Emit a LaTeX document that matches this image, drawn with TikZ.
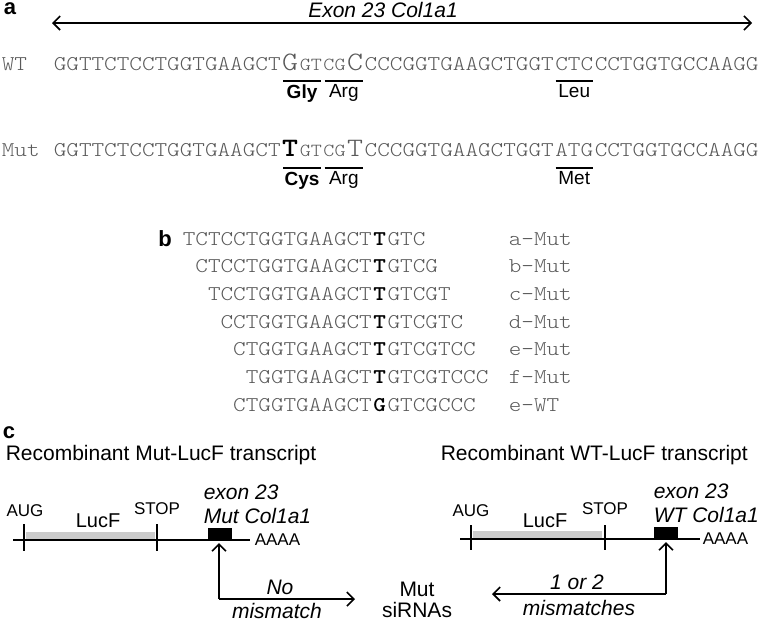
\documentclass[tikz,border=0pt]{standalone}
\usepackage{fontspec}
\setmainfont{Liberation Sans}
\setmonofont{lmmonolt10-regular.otf}[BoldFont=lmmonolt10-bold.otf,FakeStretch=1.143]
\usetikzlibrary{arrows.meta,positioning}

\definecolor{SeqGray}{gray}{0.35}
\definecolor{LucGray}{gray}{0.8}
\newcommand{\SeqFont}{\ttfamily\fontsize{10.5pt}{12pt}\selectfont}
\newcommand{\BigSeqFont}{\ttfamily\fontsize{13.3pt}{14pt}\selectfont}
\newcommand{\TinySeqFont}{\ttfamily\fontsize{9.2pt}{11pt}\selectfont}
\newcommand{\LabFont}{\fontsize{10.5pt}{12pt}\selectfont}

\begin{document}
\begin{tikzpicture}[x=0.5pt,y=-0.5pt,line width=0.8pt,
	>={Straight Barb[length=3.5pt,width=7pt]},
	SeqText/.style={anchor=base west,inner sep=0pt,text=SeqGray,font=\SeqFont},
	BigBase/.style={SeqText,font=\BigSeqFont},
	SmallBase/.style={SeqText,font=\TinySeqFont},
	CodonBar/.style={line width=0.9pt},
	CodonLabel/.style={below,inner sep=1.5pt,font=\fontsize{9.5pt}{11pt}\selectfont},
	PanelLabel/.style={inner sep=0pt,font=\fontsize{11pt}{12pt}\selectfont\bfseries},
	Mark/.style={inner sep=0pt,font=\fontsize{8.5pt}{10pt}\selectfont},
	ItText/.style={inner sep=0pt,font=\LabFont\itshape},
	ExonBox/.style={fill=black,inner sep=0pt,minimum width=12pt,minimum height=6.5pt},
]
\useasboundingbox (0,0) rectangle (758,622);

% panel a
\node[PanelLabel] (a) at (10,9) {a};
\coordinate (exL) at (52,23);
\coordinate (exR) at (752,23);
\draw[<->] (exL) -- (exR);
\node[ItText] (exon) at (383,10) {Exon 23 Col1a1};

\node[SeqText] (wtName) at (1,70) {WT};
\node[SeqText] (wtA) at (53,70) {GGTTCTCCTGGTGAAGCT};
\node[BigBase] (wtG) at (wtA.base east) {G};
\node[SmallBase] (wtGT) at (wtG.base east) {GT};
\node[SmallBase] (wtCG) at (wtGT.base east) {CG};
\node[BigBase] (wtC) at (wtCG.base east) {C};
\node[SeqText] (wtB) at (wtC.base east) {CCCGGTGAAGCTGGT};
\node[SeqText] (wtLeu) at (wtB.base east) {CTC};
\node[SeqText] (wtD) at (wtLeu.base east) {CCTGGTGCCAAGG};

\draw[CodonBar] ([shift={(2,11)}]wtG.base west) -- ([shift={(-2,11)}]wtGT.base east)
	node[CodonLabel,midway] (gly) {\bfseries Gly};
\draw[CodonBar] ([shift={(2,11)}]wtCG.base west) -- ([shift={(-1,11)}]wtC.base east)
	node[CodonLabel,midway] (argWT) {Arg};
\draw[CodonBar] ([shift={(1,11)}]wtLeu.base west) -- ([shift={(-1,11)}]wtLeu.base east)
	node[CodonLabel,midway] (leu) {Leu};

\node[SeqText] (mutName) at (1,156) {Mut};
\node[SeqText] (mutA) at (53,156) {GGTTCTCCTGGTGAAGCT};
\node[BigBase,font=\BigSeqFont\bfseries,text=black] (mutT) at (mutA.base east) {T};
\node[SmallBase] (mutGT) at (mutT.base east) {GT};
\node[SmallBase] (mutCG) at (mutGT.base east) {CG};
\node[BigBase] (mutT2) at (mutCG.base east) {T};
\node[SeqText] (mutB) at (mutT2.base east) {CCCGGTGAAGCTGGT};
\node[SeqText] (mutMet) at (mutB.base east) {ATG};
\node[SeqText] (mutD) at (mutMet.base east) {CCTGGTGCCAAGG};

\draw[CodonBar] ([shift={(2,12)}]mutT.base west) -- ([shift={(-2,12)}]mutGT.base east)
	node[CodonLabel,midway] (cys) {\bfseries Cys};
\draw[CodonBar] ([shift={(2,12)}]mutCG.base west) -- ([shift={(-1,12)}]mutT2.base east)
	node[CodonLabel,midway] (argMut) {Arg};
\draw[CodonBar] ([shift={(1,12)}]mutMet.base west) -- ([shift={(-1,12)}]mutMet.base east)
	node[CodonLabel,midway] (met) {Met};

% panel b
\node[PanelLabel] (b) at (165,239) {b};
\foreach \pre/\post/\lab [count=\i from 0] in {TCTCCTGGTGAAGCT/GTC/a-Mut,
	CTCCTGGTGAAGCT/GTCG/b-Mut, TCCTGGTGAAGCT/GTCGT/c-Mut,
	CCTGGTGAAGCT/GTCGTC/d-Mut, CTGGTGAAGCT/GTCGTCC/e-Mut,
	TGGTGAAGCT/GTCGTCCC/f-Mut}{
	\node[SeqText] (pre\i) at ({182+12.6*\i},{245+27.7*\i}) {\pre};
	\node[SeqText,font=\SeqFont\bfseries,text=black] (snp\i) at (pre\i.base east) {T};
	\node[SeqText] (post\i) at (snp\i.base east) {\post};
	\node[SeqText] (lab\i) at (508,{245+27.7*\i}) {\lab};
}
\node[SeqText] (preWT) at (232.4,411) {CTGGTGAAGCT};
\node[SeqText,font=\SeqFont\bfseries,text=black] (snpWT) at (preWT.base east) {G};
\node[SeqText] (postWT) at (snpWT.base east) {GTCGCCC};
\node[SeqText] (labWT) at (508,411) {e-WT};

% panel c
\node[PanelLabel] (c) at (9,433) {c};

% Mut-LucF transcript
\node[anchor=west,inner sep=0pt,font=\LabFont] (mTitle) at (5,455) {Recombinant Mut-LucF transcript};
\fill[LucGray] (26,532) rectangle (155,539);
\coordinate (mStart) at (13,540);
\coordinate (mEnd) at (250,540);
\draw (mStart) -- (mEnd);
\node[Mark,anchor=west] (mPolyA) at ([xshift=2pt]mEnd) {AAAA};
\draw (24,524) -- (24,551);
\draw (157,524) -- (157,551);
\node[Mark] (mAUG) at (25,511) {AUG};
\node[Mark] (mSTOP) at (157,509) {STOP};
\node[inner sep=0pt,font=\fontsize{10pt}{12pt}\selectfont] (mLuc) at (98,521) {LucF};
\node[ExonBox] (mBox) at (220,534.5) {};
\node[ItText,anchor=west] (mExon) at (203,492) {exon 23};
\node[ItText,anchor=west] (mCol) at (203,516) {Mut Col1a1};
\coordinate (mCorner) at (219,599);
\coordinate (mTip) at (219,543);
\coordinate (mOut) at (355,599);
\draw[->] (mCorner) -- (mTip);
\draw[->] (mCorner) -- (mOut);
\node[ItText] (mNo) at (280,587) {No};
\node[ItText] (mMis) at (277,611) {mismatch};

\node[align=center,inner sep=0pt,font=\fontsize{10.5pt}{10.5pt}\selectfont] (siRNA) at (417,600) {Mut\\siRNAs};

% WT-LucF transcript
\node[anchor=west,inner sep=0pt,font=\LabFont] (wTitle) at (440,455) {Recombinant WT-LucF transcript};
\fill[LucGray] (473,531) rectangle (602,538);
\coordinate (wStart) at (460,539);
\coordinate (wEnd) at (700,539);
\draw (wStart) -- (wEnd);
\node[Mark,anchor=west] (wPolyA) at ([xshift=1pt]wEnd) {AAAA};
\draw (471,525) -- (471,550);
\draw (605,525) -- (605,550);
\node[Mark] (wAUG) at (471,511) {AUG};
\node[Mark] (wSTOP) at (605,509) {STOP};
\node[inner sep=0pt,font=\fontsize{10pt}{12pt}\selectfont] (wLuc) at (545,521) {LucF};
\node[ExonBox] (wBox) at (666,533.5) {};
\node[ItText,anchor=west] (wExon) at (653,491) {exon 23};
\node[ItText,anchor=west] (wCol) at (653,515) {WT Col1a1};
\coordinate (wCorner) at (666,594);
\coordinate (wTip) at (666,542);
\coordinate (wOut) at (492,594);
\draw[->] (wCorner) -- (wTip);
\draw[->] (wCorner) -- (wOut);
\node[ItText] (wOne) at (577,582) {1 or 2};
\node[ItText] (wMis) at (579,608) {mismatches};
\end{tikzpicture}
\end{document}
